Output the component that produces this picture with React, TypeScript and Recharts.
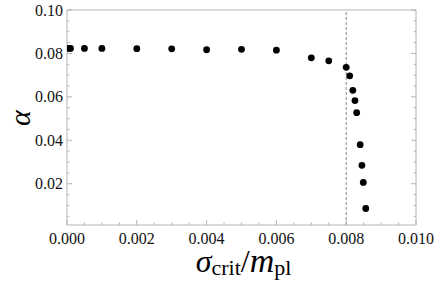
import React from "react";
import {
  ReferenceLine,
  Scatter,
  ScatterChart,
  XAxis,
  YAxis,
} from "recharts";

// sigma_crit / m_pl
const sigmaCrit = [
  0.00004, 0.0001, 0.0005, 0.001, 0.002, 0.003, 0.004, 0.005, 0.006, 0.007,
  0.0075, 0.008, 0.0081, 0.00819, 0.00825, 0.0083, 0.0084, 0.00845, 0.00849,
  0.00856,
];
const alpha = [
  0.0823, 0.0823, 0.0823, 0.0823, 0.0822, 0.0821, 0.0817, 0.0819, 0.0815,
  0.078, 0.0766, 0.0736, 0.0697, 0.063, 0.0583, 0.0527, 0.038, 0.0285, 0.0206,
  0.0086,
];

const xTicks = [
  0, 0.0005, 0.001, 0.0015, 0.002, 0.0025, 0.003, 0.0035, 0.004, 0.0045, 0.005,
  0.0055, 0.006, 0.0065, 0.007, 0.0075, 0.008, 0.0085, 0.009, 0.0095, 0.01,
];
const xLabels = ["0.000", "0.002", "0.004", "0.006", "0.008", "0.010"];

const yTicks = [
  0.005, 0.01, 0.015, 0.02, 0.025, 0.03, 0.035, 0.04, 0.045, 0.05, 0.055, 0.06,
  0.065, 0.07, 0.075, 0.08, 0.085, 0.09, 0.095, 0.1,
];
const yLabels = ["", "0.02", "0.04", "0.06", "0.08", "0.10"];

const data = sigmaCrit.map((x, i) => ({ x, y: alpha[i] }));

const FONT = "'Liberation Serif', serif";
const FRAME = "#b4b4b4";

// label for a major tick, null for a minor one
const labelAt = (v: number, step: number, labels: string[]) => {
  const k = v / step;
  const i = Math.round(k);
  return Math.abs(k - i) < 1e-6 ? labels[i] || null : null;
};
const xLabelFor = (v: number) => labelAt(v, 0.002, xLabels);
const yLabelFor = (v: number) => labelAt(v, 0.02, yLabels);

const BottomTick = (props: any) => {
  const { x, y, payload } = props;
  const label = xLabelFor(payload.value);
  return (
    <g>
      <line x1={x} y1={y} x2={x} y2={y - (label ? 5 : 2.5)} stroke={FRAME} />
      {label && (
        <text x={x} y={y + 19} textAnchor="middle" style={{ fontFamily: FONT }} fontSize={16} fill="#111">
          {label}
        </text>
      )}
    </g>
  );
};

const TopTick = (props: any) => {
  const { x, y, payload } = props;
  const major = xLabelFor(payload.value) != null;
  return <line x1={x} y1={y} x2={x} y2={y + (major ? 5 : 2.5)} stroke={FRAME} />;
};

const LeftTick = (props: any) => {
  const { x, y, payload } = props;
  const label = yLabelFor(payload.value);
  return (
    <g>
      <line x1={x} y1={y} x2={x + (label ? 5 : 2.5)} y2={y} stroke={FRAME} />
      {label && (
        <text x={x - 4} y={y} dy="0.35em" textAnchor="end" style={{ fontFamily: FONT }} fontSize={16} fill="#111">
          {label}
        </text>
      )}
    </g>
  );
};

const RightTick = (props: any) => {
  const { x, y, payload } = props;
  const major = yLabelFor(payload.value) != null;
  return <line x1={x} y1={y} x2={x - (major ? 5 : 2.5)} y2={y} stroke={FRAME} />;
};

const XTitle = (props: any) => {
  const vb = props.viewBox;
  return (
    <text x={vb.x + vb.width / 2 + 2} y={vb.y + 47} textAnchor="middle" style={{ fontFamily: FONT }} fill="#000">
      <tspan fontStyle="italic" fontSize={32}>σ</tspan>
      <tspan fontSize={22} dy={3}>crit</tspan>
      <tspan fontSize={32} dy={-3}>/</tspan>
      <tspan fontStyle="italic" fontSize={34}>m</tspan>
      <tspan fontSize={22} dy={3}>pl</tspan>
    </text>
  );
};

const YTitle = () => (
  <text
    x={19}
    y={118}
    transform="rotate(-90, 19, 118)"
    textAnchor="middle"
    dominantBaseline="central"
    style={{ fontFamily: FONT }}
    fontStyle="italic"
    fontSize={30}
    fill="#000"
  >
    α
  </text>
);

const Dot = (props: any) => <circle cx={props.cx} cy={props.cy} r={3.4} fill="#000" />;

export default function App() {
  return (
    <div style={{ position: "absolute", left: 0, top: 0, background: "#fff" }}>
      <ScatterChart width={436} height={286} margin={{ top: 9, right: 19, bottom: 0, left: 0 }}>
        <XAxis
          dataKey="x"
          type="number"
          domain={[0, 0.01]}
          ticks={xTicks}
          interval={0}
          height={61}
          tickSize={0}
          tickMargin={0}
          tick={BottomTick}
          axisLine={{ stroke: FRAME }}
          allowDataOverflow
          label={{ content: XTitle }}
        />
        <XAxis
          xAxisId="top"
          orientation="top"
          type="number"
          domain={[0, 0.01]}
          ticks={xTicks}
          interval={0}
          height={1}
          tickSize={0}
          tickMargin={0}
          tick={TopTick}
          axisLine={{ stroke: FRAME }}
          allowDataOverflow
        />
        <YAxis
          dataKey="y"
          type="number"
          domain={[0.001, 0.1]}
          ticks={yTicks}
          interval={0}
          width={67}
          tickSize={0}
          tickMargin={0}
          tick={LeftTick}
          axisLine={{ stroke: FRAME }}
          allowDataOverflow
          label={{ content: YTitle }}
        />
        <YAxis
          yAxisId="right"
          orientation="right"
          type="number"
          domain={[0.001, 0.1]}
          ticks={yTicks}
          interval={0}
          width={1}
          tickSize={0}
          tickMargin={0}
          tick={RightTick}
          axisLine={{ stroke: FRAME }}
          allowDataOverflow
        />
        <ReferenceLine x={0.008} stroke="#888" strokeDasharray="3 2" />
        <Scatter data={data} shape={Dot} isAnimationActive={false} />
      </ScatterChart>
    </div>
  );
}
